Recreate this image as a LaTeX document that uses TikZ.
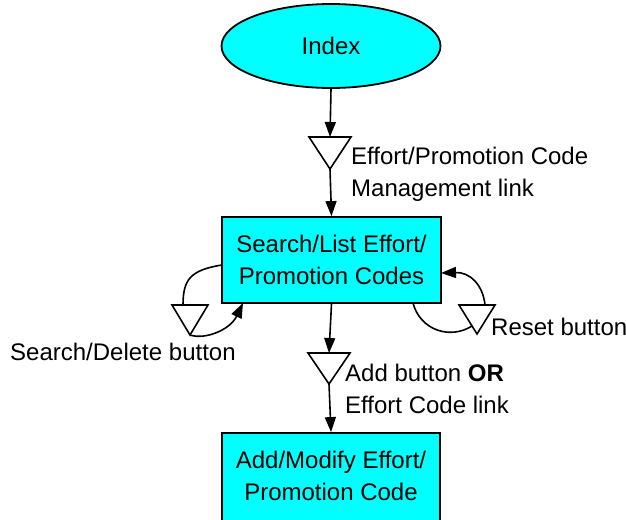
\documentclass[tikz,border=0pt]{standalone}
\usepackage{fontspec}
\setmainfont{Liberation Sans}
\usetikzlibrary{arrows.meta,shapes.geometric}
\definecolor{boxcyan}{RGB}{0,255,255}
\begin{document}
\begin{tikzpicture}[x=1pt,y=-1pt,
  every node/.style={font=\fontsize{24}{32}\selectfont},
  proc/.style={draw=black,fill=boxcyan,line width=1.8pt,align=center,inner sep=0pt},
  term/.style={ellipse,draw=black,fill=boxcyan,line width=1.8pt,inner sep=0pt},
  tri/.style={draw=black,line width=1.6pt,fill=white},
  lbl/.style={anchor=west,align=left,inner sep=0pt},
  arr/.style={line width=1.6pt,-{Triangle[length=15pt,width=11pt]}},
  ln/.style={line width=1.6pt}]
\useasboundingbox (0,0) rectangle (626,519);
% nodes
\node[term,minimum width=219pt,minimum height=84pt] (index) at (331,46) {Index};
\node[proc,minimum width=219pt,minimum height=86pt] (search) at (331.5,260) {Search/List Effort/\\Promotion Codes};
\node[proc,minimum width=218pt,minimum height=90pt,text depth=4pt] (add) at (331,478) {Add/Modify Effort/\\Promotion Code};
% triangles
\coordinate (t1top) at (330,137);
\coordinate (t1apex) at (330,169);
\draw[tri] (309,137) -- (351,137) -- (t1apex) -- cycle;
\coordinate (t2top) at (329,353);
\coordinate (t2apex) at (329,384);
\draw[tri] (308,353) -- (350,353) -- (t2apex) -- cycle;
\coordinate (tlapex) at (190,335);
\coordinate (tltop) at (183,305);
\draw[tri] (172,305) -- (208,305) -- (tlapex) -- cycle;
\coordinate (trapex) at (477,334);
\coordinate (trtop) at (485,305);
\draw[tri] (459,305) -- (495,305) -- (trapex) -- cycle;
% labels
\node[lbl] (l1) at (351,174) {Effort/Promotion Code\\Management link};
\node[lbl] (l2) at (10,352) {Search/Delete button};
\node[lbl] (l3) at (491,327) {Reset button};
\node[lbl] (l4) at (345,389) {Add button \textbf{OR}\\Effort Code link};
% connectors
\draw[arr] (index.south) -- (t1top);
\draw[arr] (t1apex) -- (search.north);
\draw[arr] (search.south) -- (t2top);
\draw[arr] (t2apex) -- (add.north);
% left loop
\coordinate (sl) at (222,265);
\coordinate (sb) at (243,303);
\draw[ln] (sl) .. controls (190,270) and (183,280) .. (tltop);
\draw[arr] (tlapex) .. controls (205,340) and (230,330) .. (sb);
% right loop
\coordinate (sbr) at (413,303);
\coordinate (sr) at (441,273);
\draw[ln] (sbr) .. controls (420,330) and (450,340) .. (472,326);
\draw[arr] (trtop) .. controls (483,285) and (470,272) .. (sr);
\end{tikzpicture}
\end{document}
